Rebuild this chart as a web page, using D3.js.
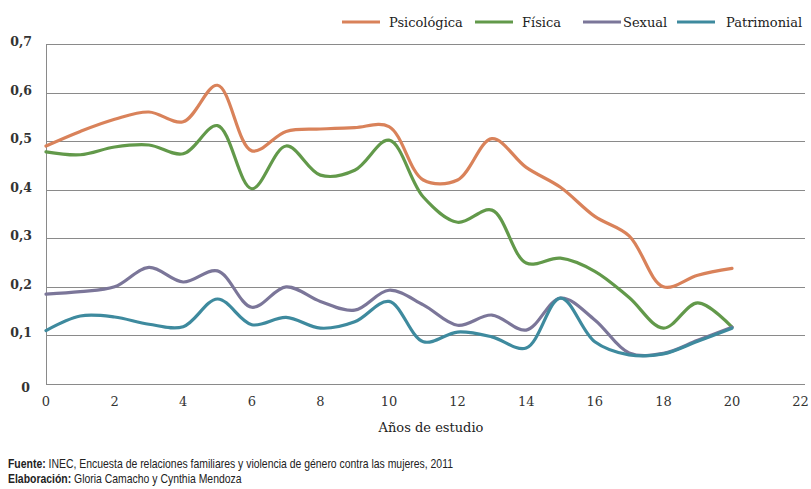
<!DOCTYPE html>
<html><head><meta charset="utf-8">
<script src="https://cdn.jsdelivr.net/npm/d3@7"></script>
<style>
html,body{margin:0;padding:0;background:#fff;}
svg{display:block;}
</style></head>
<body>
<svg id="chart" width="811" height="489"></svg>
<script>
const years = [0,1,2,3,4,5,6,7,8,9,10,11,12,13,14,15,16,17,18,19,20];
const psicologica = [0.49,0.52,0.545,0.56,0.54,0.615,0.48,0.52,0.525,0.528,0.53,0.42,0.42,0.505,0.446,0.405,0.345,0.305,0.2,0.224,0.238];
const fisica = [0.478,0.472,0.488,0.492,0.474,0.532,0.402,0.49,0.43,0.44,0.502,0.385,0.333,0.358,0.249,0.259,0.232,0.178,0.115,0.167,0.117];
const sexual = [0.185,0.19,0.2,0.24,0.21,0.233,0.158,0.2,0.17,0.152,0.193,0.163,0.121,0.142,0.111,0.177,0.132,0.064,0.063,0.09,0.117];
const patrimonial = [0.11,0.14,0.138,0.123,0.118,0.175,0.122,0.137,0.115,0.128,0.17,0.087,0.107,0.097,0.074,0.177,0.087,0.06,0.062,0.088,0.115];
const seriesNames = ["Psicológica","Física","Sexual","Patrimonial"];
const seriesColors = ["#d9825a","#62994a","#7b7699","#3e8a9e"];
const xTicks = [0,2,4,6,8,10,12,14,16,18,20,22];
const yTicks = [0,0.1,0.2,0.3,0.4,0.5,0.6,0.7];

const seriesValues = [psicologica, fisica, sexual, patrimonial];
const svg = d3.select("#chart");
const m = {left:46, right:805, top:44, bottom:384};
const x = d3.scaleLinear().domain([0,22]).range([m.left, 800.6]);
const y = d3.scaleLinear().domain([0,0.7]).range([m.bottom, m.top]);
const serif = "'DejaVu Serif', serif";

// grid lines
svg.append("g").selectAll("line").data(yTicks).join("line")
  .attr("x1", m.left).attr("x2", m.right)
  .attr("y1", d=>Math.round(y(d))+0.5).attr("y2", d=>Math.round(y(d))+0.5)
  .attr("stroke", "#8a8a8a").attr("stroke-width", 1);
// left axis line
svg.append("line").attr("x1", m.left+0.5).attr("x2", m.left+0.5)
  .attr("y1", y(0.7)).attr("y2", y(0)+1).attr("stroke","#8a8a8a");

// y tick labels
svg.append("g").selectAll("text").data(yTicks).join("text")
  .attr("x", d => d===0 ? 30 : 32).attr("y", d => d===0 ? y(d)+8 : y(d)+2)
  .attr("text-anchor","end")
  .attr("font-family", serif).attr("font-size", 12.5).attr("font-weight","bold").attr("fill","#333")
  .text(d => d===0 ? "0" : d3.format(".1f")(d).replace(".", ","));

// x tick labels
svg.append("g").selectAll("text").data(xTicks).join("text")
  .attr("x", d=>x(d)).attr("y", 406)
  .attr("text-anchor","middle")
  .attr("font-family", serif).attr("font-size", 13).attr("fill","#333")
  .text(d=>d);

svg.append("text").attr("x", 431).attr("y", 432).attr("text-anchor","middle")
  .attr("font-family", serif).attr("font-size", 13).attr("fill","#222").text("Años de estudio");

// lines
const line = d3.line().x((d,i)=>x(years[i])).y(d=>y(d)).curve(d3.curveCatmullRom.alpha(0.5));
svg.append("g").selectAll("path").data(seriesValues).join("path")
  .attr("d", d=>line(d)).attr("fill","none")
  .attr("stroke", (d,i)=>seriesColors[i]).attr("stroke-width", 3.2)
  .attr("stroke-linejoin","round").attr("stroke-linecap","round");

// legend
const legX = [342, 475, 583, 677];
const lg = svg.append("g").selectAll("g").data(seriesNames).join("g")
  .attr("transform", (d,i)=>`translate(${legX[i]},22)`);
lg.append("line").attr("x1",0).attr("x2",38).attr("y1",0).attr("y2",0)
  .attr("stroke",(d,i)=>seriesColors[i]).attr("stroke-width",3);
lg.append("text").attr("x",(d,i)=> i===3 ? 49 : (i===2 ? 40 : 47)).attr("y",5)
  .attr("font-family", serif).attr("font-size", 13).attr("fill","#222").text(d=>d);

// footnotes
const foot = svg.append("g").attr("transform","translate(8,0) scale(0.87,1)")
  .attr("font-family","'Liberation Sans Narrow','Liberation Sans',sans-serif").attr("font-size",12).attr("fill","#222");
const f1 = foot.append("text").attr("x",0).attr("y",468);
f1.append("tspan").attr("font-weight","bold").text("Fuente:");
f1.append("tspan").text(" INEC, Encuesta de relaciones familiares y violencia de género contra las mujeres, 2011");
const f2 = foot.append("text").attr("x",0).attr("y",483);
f2.append("tspan").attr("font-weight","bold").text("Elaboración:");
f2.append("tspan").text(" Gloria Camacho y Cynthia Mendoza");
</script>
</body></html>
